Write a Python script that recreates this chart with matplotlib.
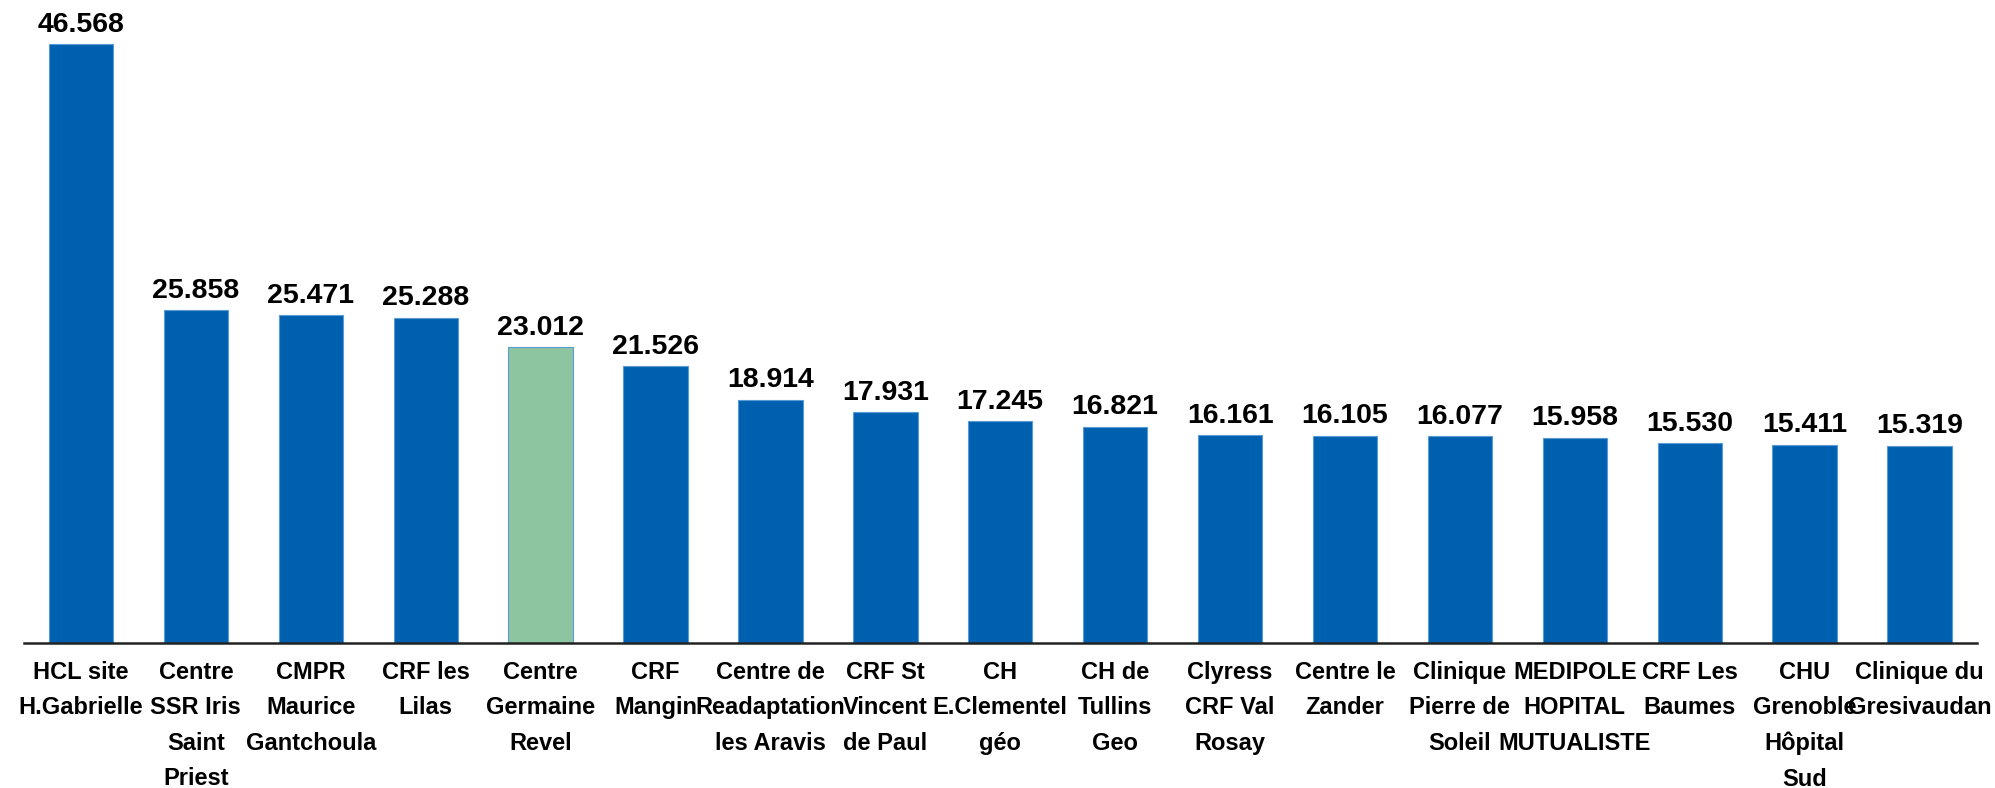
import matplotlib
matplotlib.use("Agg")
import matplotlib.pyplot as plt

# Data
labels = [
    "HCL site\nH.Gabrielle",
    "Centre\nSSR Iris\nSaint\nPriest",
    "CMPR\nMaurice\nGantchoula",
    "CRF les\nLilas",
    "Centre\nGermaine\nRevel",
    "CRF\nMangin",
    "Centre de\nReadaptation\nles Aravis",
    "CRF St\nVincent\nde Paul",
    "CH\nE.Clementel\ngéo",
    "CH de\nTullins\nGeo",
    "Clyress\nCRF Val\nRosay",
    "Centre le\nZander",
    "Clinique\nPierre de\nSoleil",
    "MEDIPOLE\nHOPITAL\nMUTUALISTE",
    "CRF Les\nBaumes",
    "CHU\nGrenoble\nHôpital\nSud",
    "Clinique du\nGresivaudan",
]
values = [46.568, 25.858, 25.471, 25.288, 23.012, 21.526, 18.914, 17.931,
          17.245, 16.821, 16.161, 16.105, 16.077, 15.958, 15.530, 15.411, 15.319]
highlight = "Centre\nGermaine\nRevel"

blue = "#0060B0"
green = "#8DC5A0"
colors = [green if l == highlight else blue for l in labels]

fig = plt.figure(figsize=(19.95, 7.88), dpi=100)
ax = fig.add_axes([23.5 / 1995, 145 / 788, (1977 - 23.5) / 1995, 643 / 788])

x = range(len(values))
bars = ax.bar(x, values, width=0.56, color=colors, edgecolor="#5B9BD5", linewidth=0.8)

ax.set_xlim(-0.5, len(values) - 0.5)
ax.set_ylim(0, 50)

for b, v in zip(bars, values):
    ax.annotate(f"{v:.3f}", (b.get_x() + b.get_width() / 2, v),
                xytext=(0, 9), textcoords="offset points",
                ha="center", va="baseline", fontsize=20.5, fontweight="bold",
                family=["Liberation Sans", "DejaVu Sans"])

ax.set_xticks(list(x))
ax.set_xticklabels(labels, fontsize=17, fontweight="bold", linespacing=1.68,
                   family=["Liberation Sans", "DejaVu Sans"])
ax.tick_params(axis="x", length=0, pad=13)
ax.set_yticks([])

for s in ["top", "right", "left"]:
    ax.spines[s].set_visible(False)
ax.spines["bottom"].set_linewidth(1.8)
ax.spines["bottom"].set_color("#222222")

fig.savefig("out.png", dpi=100)
